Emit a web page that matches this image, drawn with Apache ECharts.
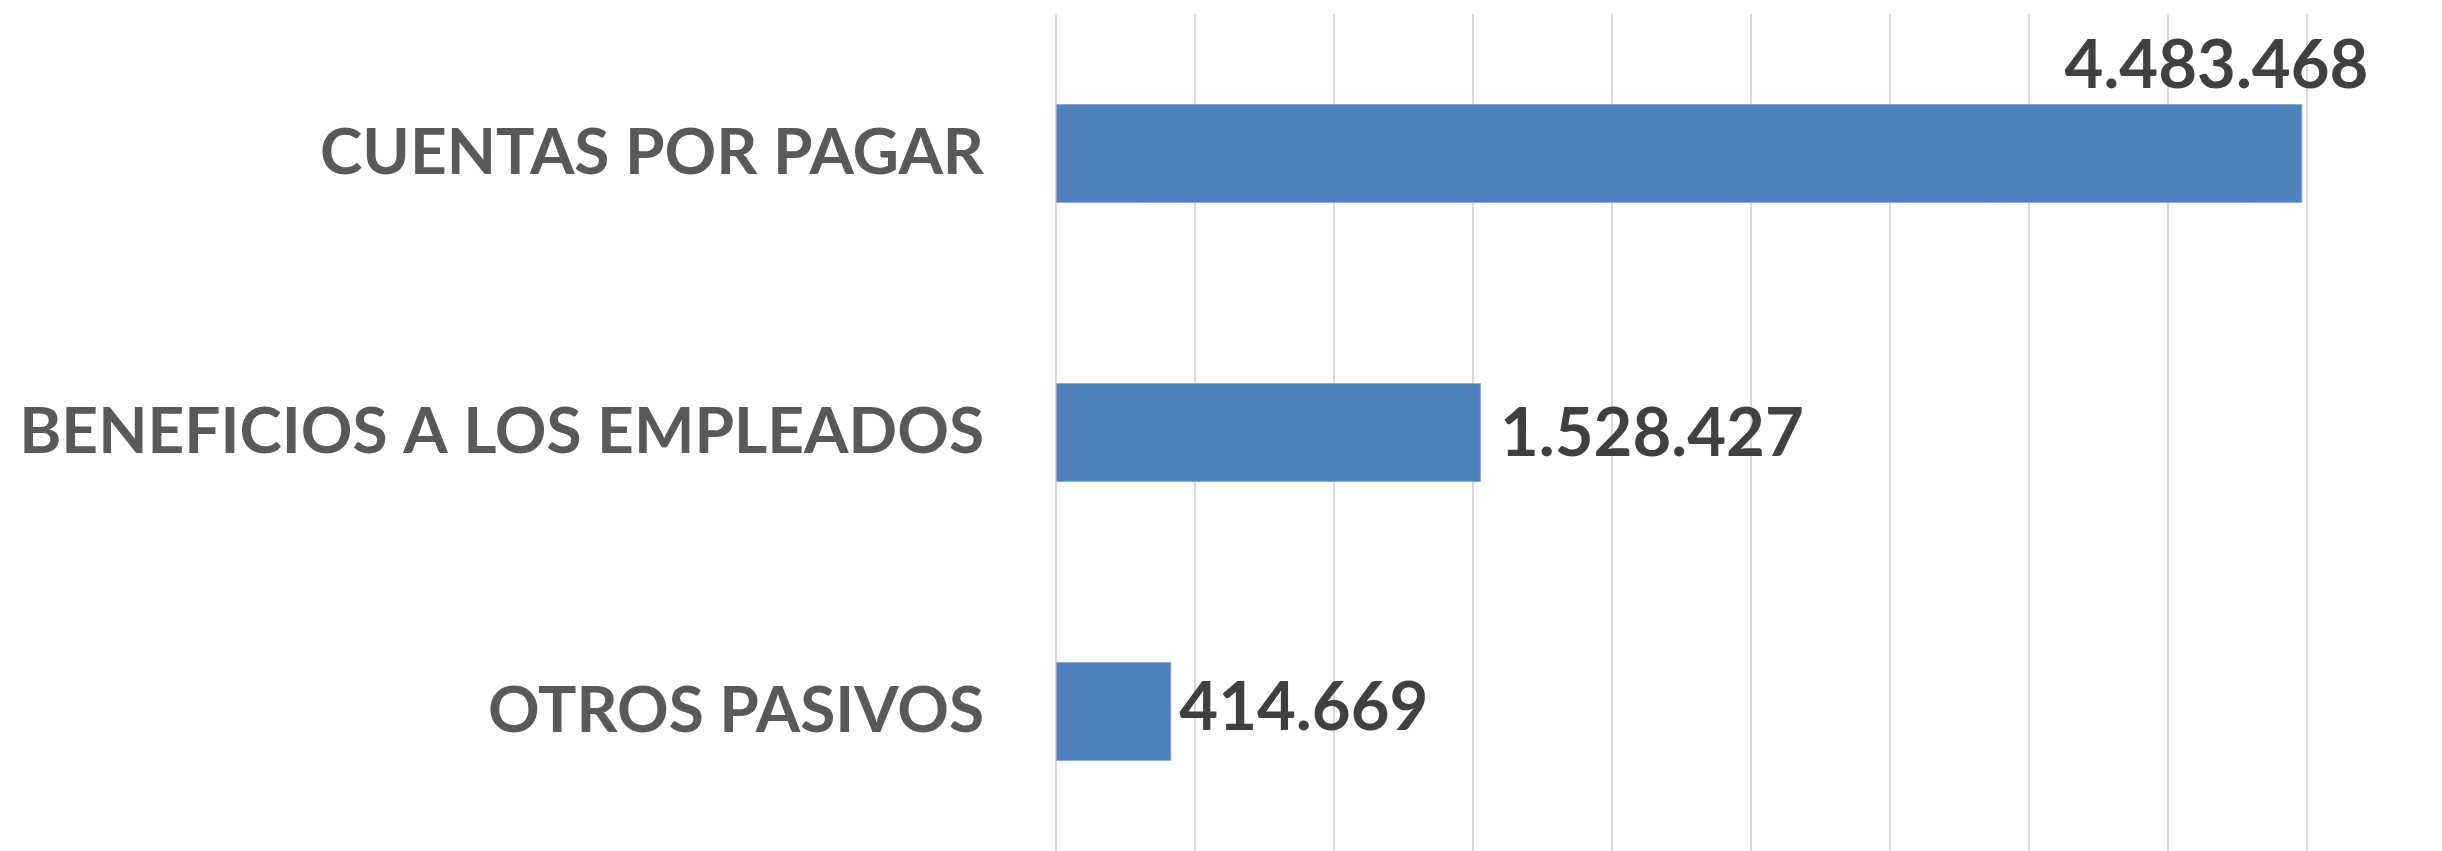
<!DOCTYPE html>
<html>
<head>
<meta charset="utf-8">
<script src="https://cdn.jsdelivr.net/npm/echarts@6/dist/echarts.min.js"></script>
<style>html,body{margin:0;padding:0;background:#fff}#c{width:2442px;height:851px}</style>
</head>
<body>
<div id="c"></div>
<script>
const categories = ["CUENTAS POR PAGAR", "BENEFICIOS A LOS EMPLEADOS", "OTROS PASIVOS"];
const values = [4483468, 1528427, 414669];
const valueLabels = ["4.483.468", "1.528.427", "414.669"];

const chart = echarts.init(document.getElementById('c'));
const labelStyle = {fontFamily: 'Lato', fontWeight: 'bold', fontSize: 67, color: '#404040'};
const data = values.map((v, i) => {
  let label;
  if (i === 0) {
    label = Object.assign({show: true, position: ['100%', 0], align: 'right', verticalAlign: 'bottom', offset: [66, -4]}, labelStyle);
  } else if (i === 1) {
    label = Object.assign({show: true, position: 'right', distance: 19, offset: [0, 2]}, labelStyle);
  } else {
    label = Object.assign({show: true, position: 'right', distance: 8, offset: [0, -3]}, labelStyle);
  }
  return {value: v, label: Object.assign(label, {formatter: valueLabels[i]})};
});
chart.setOption({
  animation: false,
  grid: {left: 1056, right: 135, top: 14, bottom: -6, containLabel: false},
  xAxis: {
    type: 'value', min: 0, max: 4500000, interval: 500000,
    axisLabel: {show: false}, axisLine: {show: false}, axisTick: {show: false},
    splitLine: {show: true, lineStyle: {color: '#d9d9d9', width: 2}}
  },
  yAxis: {
    type: 'category', data: categories, inverse: true,
    axisLine: {show: false}, axisTick: {show: false},
    axisLabel: {margin: 72, fontFamily: 'Lato', fontWeight: 'bold', fontSize: 64, color: '#595959'}
  },
  series: [{
    type: 'bar', data: data, barWidth: '35.5%',
    itemStyle: {color: '#4f81bd', borderColor: '#8eaad2', borderWidth: 1}
  }]
});
</script>
</body>
</html>
